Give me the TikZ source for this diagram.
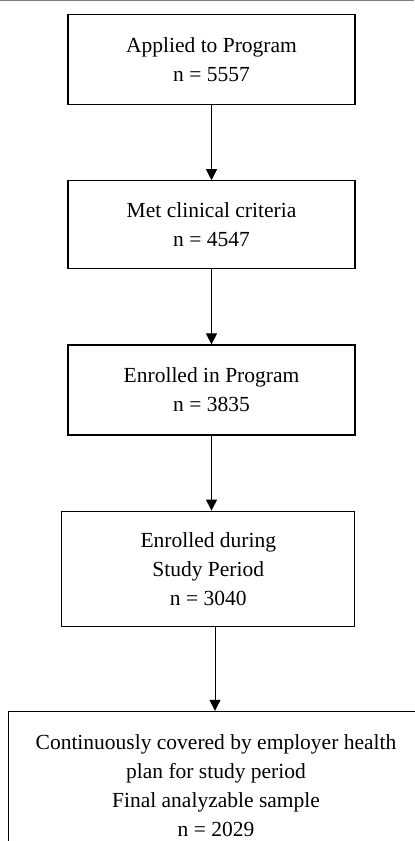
\documentclass[tikz,border=0pt]{standalone}
\usepackage{fontspec}
\setmainfont{Liberation Serif}
\usetikzlibrary{arrows.meta, positioning}

\begin{document}
\begin{tikzpicture}[
    x=1bp, y=-1bp,
    node distance=75bp,
    box/.style={
        rectangle,
        draw,
        line width=1.2bp,
        minimum width=287bp,
        minimum height=90bp,
        inner sep=0pt,
        align=center,
        font=\fontsize{21.5bp}{29bp}\selectfont
    },
    >={Triangle[length=11bp, width=11bp]}
]

\useasboundingbox (0,0) rectangle (414,841);
\draw[gray, line width=1.5bp] (0,0.75) -- (414,0.75);

\node[box, anchor=north] at (211.5,14) (applied) {Applied to Program\\n = 5557};
\node[box, below=of applied, minimum height=88bp] (met) {Met clinical criteria\\n = 4547};
\node[box, below=of met] (enrolled) {Enrolled in Program\\n = 3835};
\node[box, below=of enrolled, xshift=-3.2bp, minimum width=293bp, minimum height=115bp] (study) {Enrolled during\\Study Period\\n = 3040};
\node[box, below=84bp of study, xshift=7.7bp, minimum width=415bp, minimum height=148bp] (final) {Continuously covered by employer health\\plan for study period\\Final analyzable sample\\n = 2029};

\draw[->, line width=1bp] (applied) -- (met);
\draw[->, line width=1bp] (met) -- (enrolled);
\draw[->, line width=1bp] (enrolled.south) -- (enrolled.south |- study.north);
\draw[->, line width=1bp] ([xshift=-1bp]final.north |- study.south) -- ([xshift=-1bp]final.north);

\end{tikzpicture}
\end{document}
